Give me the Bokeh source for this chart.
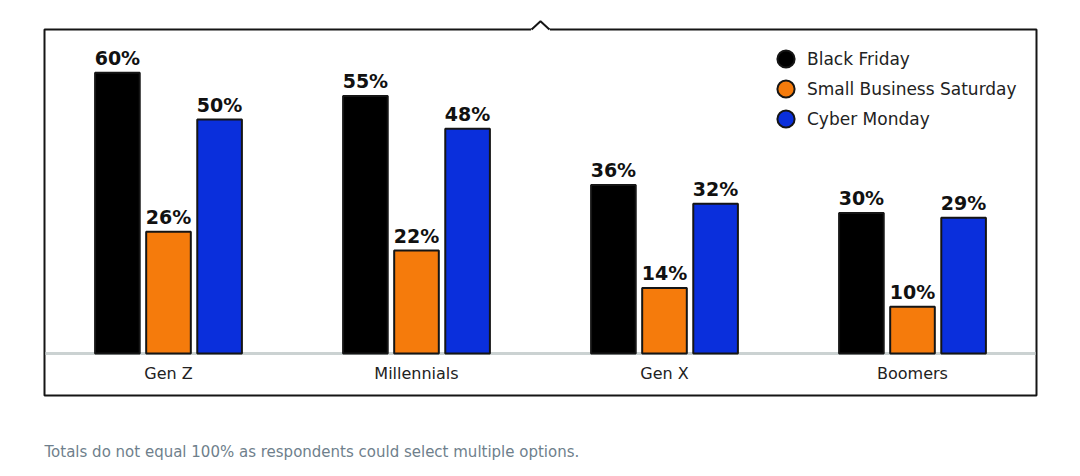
from bokeh.plotting import figure
from bokeh.models import (ColumnDataSource, FactorRange, Range1d, Legend,
                          LegendItem, Title, PolyAnnotation, BoxAnnotation)
from bokeh.transform import dodge
from bokeh.core.properties import value
from bokeh.embed import file_html
from bokeh.resources import INLINE

categories = ["Gen Z", "Millennials", "Gen X", "Boomers"]
series_names = ["Black Friday", "Small Business Saturday", "Cyber Monday"]
black_friday = [60, 55, 36, 30]
small_business_saturday = [26, 22, 14, 10]
cyber_monday = [50, 48, 32, 29]
footnote = "Totals do not equal 100% as respondents could select multiple options."

colors = ["#000000", "#f57b0c", "#0a2fdc"]
series_values = [black_friday, small_business_saturday, cyber_monday]
offsets = [-0.206, 0.0, 0.206]
FONT = "DejaVu Sans"
EDGE = "#151515"

# 4.68 px per percentage point, baseline at 353 px
p = figure(x_range=FactorRange(*categories, range_padding=0.01613,
                               range_padding_units="absolute"),
           y_range=Range1d(-9.615, 71.37),
           frame_width=1000, frame_height=379,
           min_border_left=40, min_border_right=32, min_border_top=19,
           min_border_bottom=76,
           x_axis_location=None, y_axis_location=None,
           toolbar_location=None, output_backend="svg")
p.xgrid.visible = False
p.ygrid.visible = False
p.outline_line_color = None
p.background_fill_color = "white"
p.border_fill_color = "white"

n = len(categories)
# chart box with notch
p.add_layout(BoxAnnotation(left=0, right=n, bottom=-8.97, top=69.23,
                           fill_alpha=0, line_color=EDGE, line_alpha=1,
                           line_width=2, level="underlay"))
p.add_layout(PolyAnnotation(xs=[1.962, 1.962, 2.0, 2.038, 2.038],
                            ys=[68.9, 69.23, 71.0, 69.23, 68.9],
                            fill_color="white", fill_alpha=1,
                            line_color=None, level="underlay"))
p.add_layout(PolyAnnotation(xs=[1.964, 2.0, 2.036, 2.0],
                            ys=[69.23, 71.0, 69.23, 71.0],
                            fill_alpha=0, line_color=EDGE, line_alpha=1,
                            line_width=2, level="underlay"))

# baseline
p.add_layout(BoxAnnotation(left=0.004, right=n - 0.004, bottom=-0.33, top=0.33,
                           fill_color="#cbd2d2", fill_alpha=1,
                           line_color=None, level="underlay"))

legend_items = []
for name, vals, col, off in zip(series_names, series_values, colors, offsets):
    src = ColumnDataSource(dict(cat=categories, val=vals,
                                lab=[f"{v}%" for v in vals]))
    p.vbar(x=dodge("cat", off, range=p.x_range), top="val", width=0.18,
           source=src, fill_color=col, line_color=EDGE, line_width=2)
    p.text(x=dodge("cat", off, range=p.x_range), y="val", text="lab", source=src,
           text_align="center", text_baseline="bottom", y_offset=-4,
           text_font=value(FONT), text_font_style="bold",
           text_font_size="19px", text_color="#111111")
    r = p.scatter(x=[categories[0]], y=[float("nan")], marker="circle", size=17,
                  fill_color=col, line_color=EDGE, line_width=2)
    legend_items.append(LegendItem(label=name, renderers=[r]))

# category labels
csrc = ColumnDataSource(dict(cat=categories, y0=[0] * n))
p.text(x="cat", y="y0", text="cat", source=csrc, text_align="center",
       text_baseline="middle", y_offset=20, text_font=value(FONT),
       text_font_size="16px", text_font_style="normal", text_color="#222222")

# one legend per item so rows can sit 30px apart with 17px markers
for i, item in enumerate(legend_items):
    lg = Legend(items=[item], location=(724, 318 - 30 * i),
                border_line_color=None, background_fill_alpha=0,
                label_text_font=FONT, label_text_font_size="17px",
                label_text_color="#222222", glyph_width=43, glyph_height=43,
                label_height=43, label_standoff=-6, padding=0, margin=0)
    p.add_layout(lg)

p.add_layout(Title(text=footnote, align="left", text_font=FONT,
                   text_font_size="15px", text_font_style="normal",
                   text_color="#6f7f8c", standoff=84, offset=4), "below")

open("out.html", "w").write(file_html(p, INLINE))
